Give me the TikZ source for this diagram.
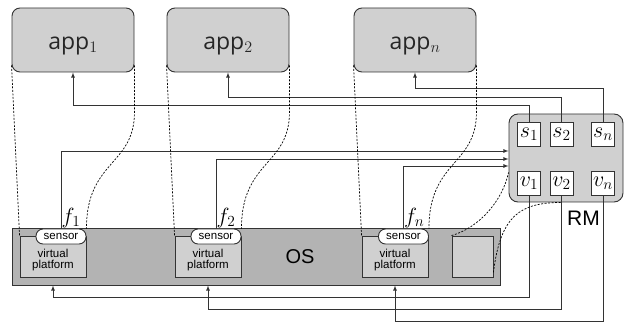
\documentclass[tikz,border=0pt]{standalone}
\usepackage{fix-cm}
\usepackage{fontspec}
\setsansfont{Liberation Sans}
\newfontfamily\appfont{Open Sans}
\definecolor{appgray}{HTML}{D0D0D0}
\definecolor{osgray}{HTML}{B3B3B3}
\definecolor{edgegray}{HTML}{333333}

\begin{document}
\begin{tikzpicture}[x=1pt,y=-1pt,
 appbox/.style={draw=edgegray,line width=0.9pt,fill=appgray,rounded corners=8pt,
   minimum width=122pt,minimum height=64pt,text height=19pt,text depth=0pt,
   font=\appfont\fontsize{23}{26}\selectfont,text=black!85},
 rmbox/.style={draw=edgegray,line width=0.9pt,fill=appgray,rounded corners=9pt,
   minimum width=114pt,minimum height=88pt},
 slot/.style={draw=edgegray,line width=0.9pt,fill=white,minimum width=23pt,
   minimum height=24pt,inner sep=0pt,font=\fontsize{22}{24}\selectfont},
 osbox/.style={draw=edgegray,line width=0.9pt,fill=osgray,minimum width=488pt,minimum height=57pt},
 vpbox/.style={draw=edgegray,line width=0.9pt,fill=appgray,minimum width=66pt,minimum height=41pt},
 vptext/.style={align=center,inner sep=0pt,font=\sffamily\fontsize{11.5}{11}\selectfont},
 sensorbox/.style={draw=edgegray,line width=0.9pt,fill=white,rounded corners=7pt,
   minimum width=50pt,minimum height=15pt,inner sep=0pt,font=\sffamily\fontsize{11.5}{12}\selectfont},
 bigtext/.style={inner sep=0pt,font=\sffamily\fontsize{20}{24}\selectfont},
 flabel/.style={anchor=south west,inner sep=0.5pt,font=\fontsize{22}{24}\selectfont},
 conn/.style={draw=edgegray,line width=0.8pt,-latex},
 proj/.style={draw=black,line width=0.7pt,dash pattern=on 2pt off 1.5pt}]

\useasboundingbox (0,0) rectangle (624,323);

% applications
\node[appbox] (app1) at (73,40) {app$_1$};
\node[appbox] (app2) at (228,40) {app$_2$};
\node[appbox] (appn) at (415,40) {app$_n$};

% operating system with the virtual platforms
\node[osbox] (os) at (256,256.5) {};
\node[bigtext] (oslabel) at (300,256.5) {OS};

\node[vpbox] (vp1) at (53,256.5) {};
\node[vptext] (vp1txt) at ([yshift=-3.5pt]vp1.center) {virtual\\platform};
\node[sensorbox] (sensor1) at (61,236.5) {sensor};

\node[vpbox] (vp2) at (208,256.5) {};
\node[vptext] (vp2txt) at ([yshift=-3.5pt]vp2.center) {virtual\\platform};
\node[sensorbox] (sensor2) at (216,236.5) {sensor};

\node[vpbox] (vpn) at (395,256.5) {};
\node[vptext] (vpntxt) at ([yshift=-3.5pt]vpn.center) {virtual\\platform};
\node[sensorbox] (sensorn) at (403.5,236.5) {sensor};

\node[vpbox,minimum width=41pt] (rmcopy) at (472.5,256.5) {};

% resource manager
\node[rmbox] (rm) at (566,158) {};
\node[slot] (s1) at (529,134) {$s_1$};
\node[slot] (s2) at (561.5,134) {$s_2$};
\node[slot] (sn) at (603,134) {$s_n$};
\node[slot] (v1) at (529,183.5) {$v_1$};
\node[slot] (v2) at (561.5,183.5) {$v_2$};
\node[slot] (vn) at (603,183.5) {$v_n$};
\node[bigtext,font=\sffamily\fontsize{21}{24}\selectfont] (rmlabel) at (583.5,218.5) {RM};

% sensor readings to RM
\node[flabel] (f1) at (sensor1.north) {$f_1$};
\node[flabel] (f2) at (sensor2.north) {$f_2$};
\node[flabel] (fn) at (sensorn.north) {$f_n$};
\draw[conn] (sensor1.north) |- ([yshift=7pt]rm.west);
\draw[conn] (sensor2.north) |- ([yshift=-1pt]rm.west);
\draw[conn] (sensorn.north) |- ([yshift=-8pt]rm.west);

% RM to applications
\draw[conn] (s1.north) -- ++(0,-16) -| (app1.south);
\draw[conn] (s2.north) -- ++(0,-24) -| (app2.south);
\draw[conn] (sn.north) -- ++(0,-33) -| (appn.south);

% RM to virtual platforms
\draw[conn] (v1.south) -- ++(0,101.5) -| (vp1 |- os.south);
\draw[conn] (v2.south) -- ++(0,113.5) -| (vp2 |- os.south);
\draw[conn] (vn.south) -- ++(0,125.5) -| (vpn |- os.south);

% projections
\draw[proj] ([yshift=7pt]app1.south west) -- (vp1.north west);
\draw[proj] ([yshift=7pt]app1.south east) -- ++(0,47) .. controls +(0,53) and +(0,-68) .. (sensor1.north east);
\draw[proj] ([yshift=7pt]app2.south west) -- (vp2.north west);
\draw[proj] ([yshift=7pt]app2.south east) -- ++(0,47) .. controls +(0,53) and +(0,-68) .. (sensor2.north east);
\draw[proj] ([yshift=7pt]appn.south west) -- (vpn.north west);
\draw[proj] ([yshift=7pt]appn.south east) -- ++(0,47) .. controls +(0,53) and +(0,-68) .. (sensorn.north east);
\draw[proj] (rmcopy.north west) .. controls +(28,-8) and +(-6,28) .. ([yshift=-14.5pt]rm.west);
\draw[proj] ([yshift=5pt]rmcopy.south east) .. controls +(7,-57) and +(-42,0) .. ([xshift=-4pt]rm.south);

\end{tikzpicture}
\end{document}
